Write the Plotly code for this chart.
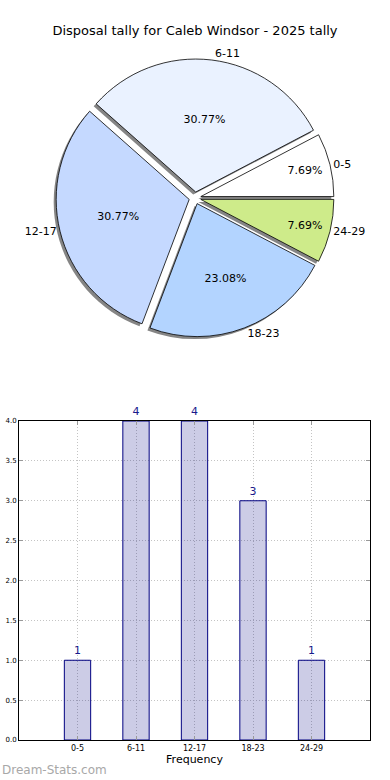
import plotly.graph_objects as go

categories = ["0-5", "6-11", "12-17", "18-23", "24-29"]
counts = [1, 4, 4, 3, 1]
pie_colors = ["#FFFFFF", "#EAF2FF", "#C5D9FF", "#B3D4FF", "#CEEB8A"]
title_text = "Disposal tally for Caleb Windsor - 2025 tally"
y_ticks = [0, 0.5, 1.0, 1.5, 2.0, 2.5, 3.0, 3.5, 4.0]

W, H = 390, 780
# pie geometry (pixels)
cx, cy, half = 195, 198, 139
pull = 0.045
# first slice starts at 3 o'clock and runs counterclockwise
rot = 90 - 360.0 * counts[0] / sum(counts)

def px_dom(x0, x1, y0, y1):
    return dict(x=[x0 / W, x1 / W], y=[1 - y1 / H, 1 - y0 / H])

fig = go.Figure()

common = dict(values=counts, labels=categories, sort=False, direction="counterclockwise",
              rotation=rot, pull=pull, showlegend=False)

# shadow
sdx, sdy = -2.5, 2.5
fig.add_trace(go.Pie(
    **common, textinfo="none", hoverinfo="skip",
    marker=dict(colors=["#858585"] * len(counts), line=dict(width=0)),
    domain=px_dom(cx - half + sdx, cx + half + sdx, cy - half + sdy, cy + half + sdy),
))
# main pie
fig.add_trace(go.Pie(
    **common, texttemplate="%{percent:.2%}", textposition="inside",
    insidetextorientation="horizontal",
    insidetextfont=dict(family="DejaVu Sans", size=11, color="black"),
    marker=dict(colors=pie_colors, line=dict(color="black", width=0.8)),
    domain=px_dom(cx - half, cx + half, cy - half, cy + half),
))
# outside labels
fig.add_trace(go.Pie(
    **common, textinfo="label", textposition="outside",
    outsidetextfont=dict(family="DejaVu Sans", size=11, color="black"),
    marker=dict(colors=["rgba(0,0,0,0)"] * len(counts), line=dict(width=0)),
    domain=px_dom(cx - half, cx + half, cy - half, cy + half),
    hoverinfo="skip", automargin=False,
))

# bar chart
fig.add_trace(go.Bar(
    x=categories, y=counts, width=0.45,
    marker=dict(color="rgba(0,0,128,0.2)", line=dict(color="#000080", width=1)),
    text=[str(c) for c in counts], textposition="outside",
    textfont=dict(family="DejaVu Sans", size=11, color="#1a1a8c"),
    cliponaxis=False, showlegend=False,
))

grid = dict(showgrid=True, gridcolor="#c4c4c4", griddash="1px,2px", gridwidth=1)
fig.update_layout(
    width=W, height=H,
    margin=dict(l=0, r=0, t=0, b=0, autoexpand=False),
    paper_bgcolor="white", plot_bgcolor="white",
    font=dict(family="DejaVu Sans", color="black"),
    title=dict(text=title_text, x=0.5, xanchor="center", y=1 - 30 / H, yanchor="middle",
               font=dict(family="DejaVu Sans", size=13, color="black")),
    xaxis=dict(
        domain=[19 / W, 370 / W], range=[-1, 5], type="category", automargin=False,
        showline=True, mirror="ticks", linecolor="black", linewidth=1,
        ticks="inside", ticklen=4, tickcolor="#999999",
        tickfont=dict(family="DejaVu Sans", size=8, color="black"),
        title=dict(text="Frequency", font=dict(family="DejaVu Sans", size=11, color="black"), standoff=2),
        zeroline=False, **grid,
    ),
    yaxis=dict(
        domain=[1 - 740 / H, 1 - 421 / H], range=[0, 4], automargin=False,
        tickvals=y_ticks, tickformat=".1f",
        showline=True, mirror="ticks", linecolor="black", linewidth=1,
        ticks="inside", ticklen=4, tickcolor="#999999",
        tickfont=dict(family="DejaVu Sans", size=7, color="black"),
        zeroline=False, **grid,
    ),
    annotations=[dict(
        text="Dream-Stats.com", xref="paper", yref="paper", x=0, y=1 - 770 / H,
        xanchor="left", yanchor="middle", showarrow=False,
        font=dict(family="DejaVu Sans", size=12, color="#a8a8a8"),
    )],
)

fig.write_html("out.html", config={"displayModeBar": False},
               post_script="document.body.style.margin='0';document.body.style.padding='0';")
